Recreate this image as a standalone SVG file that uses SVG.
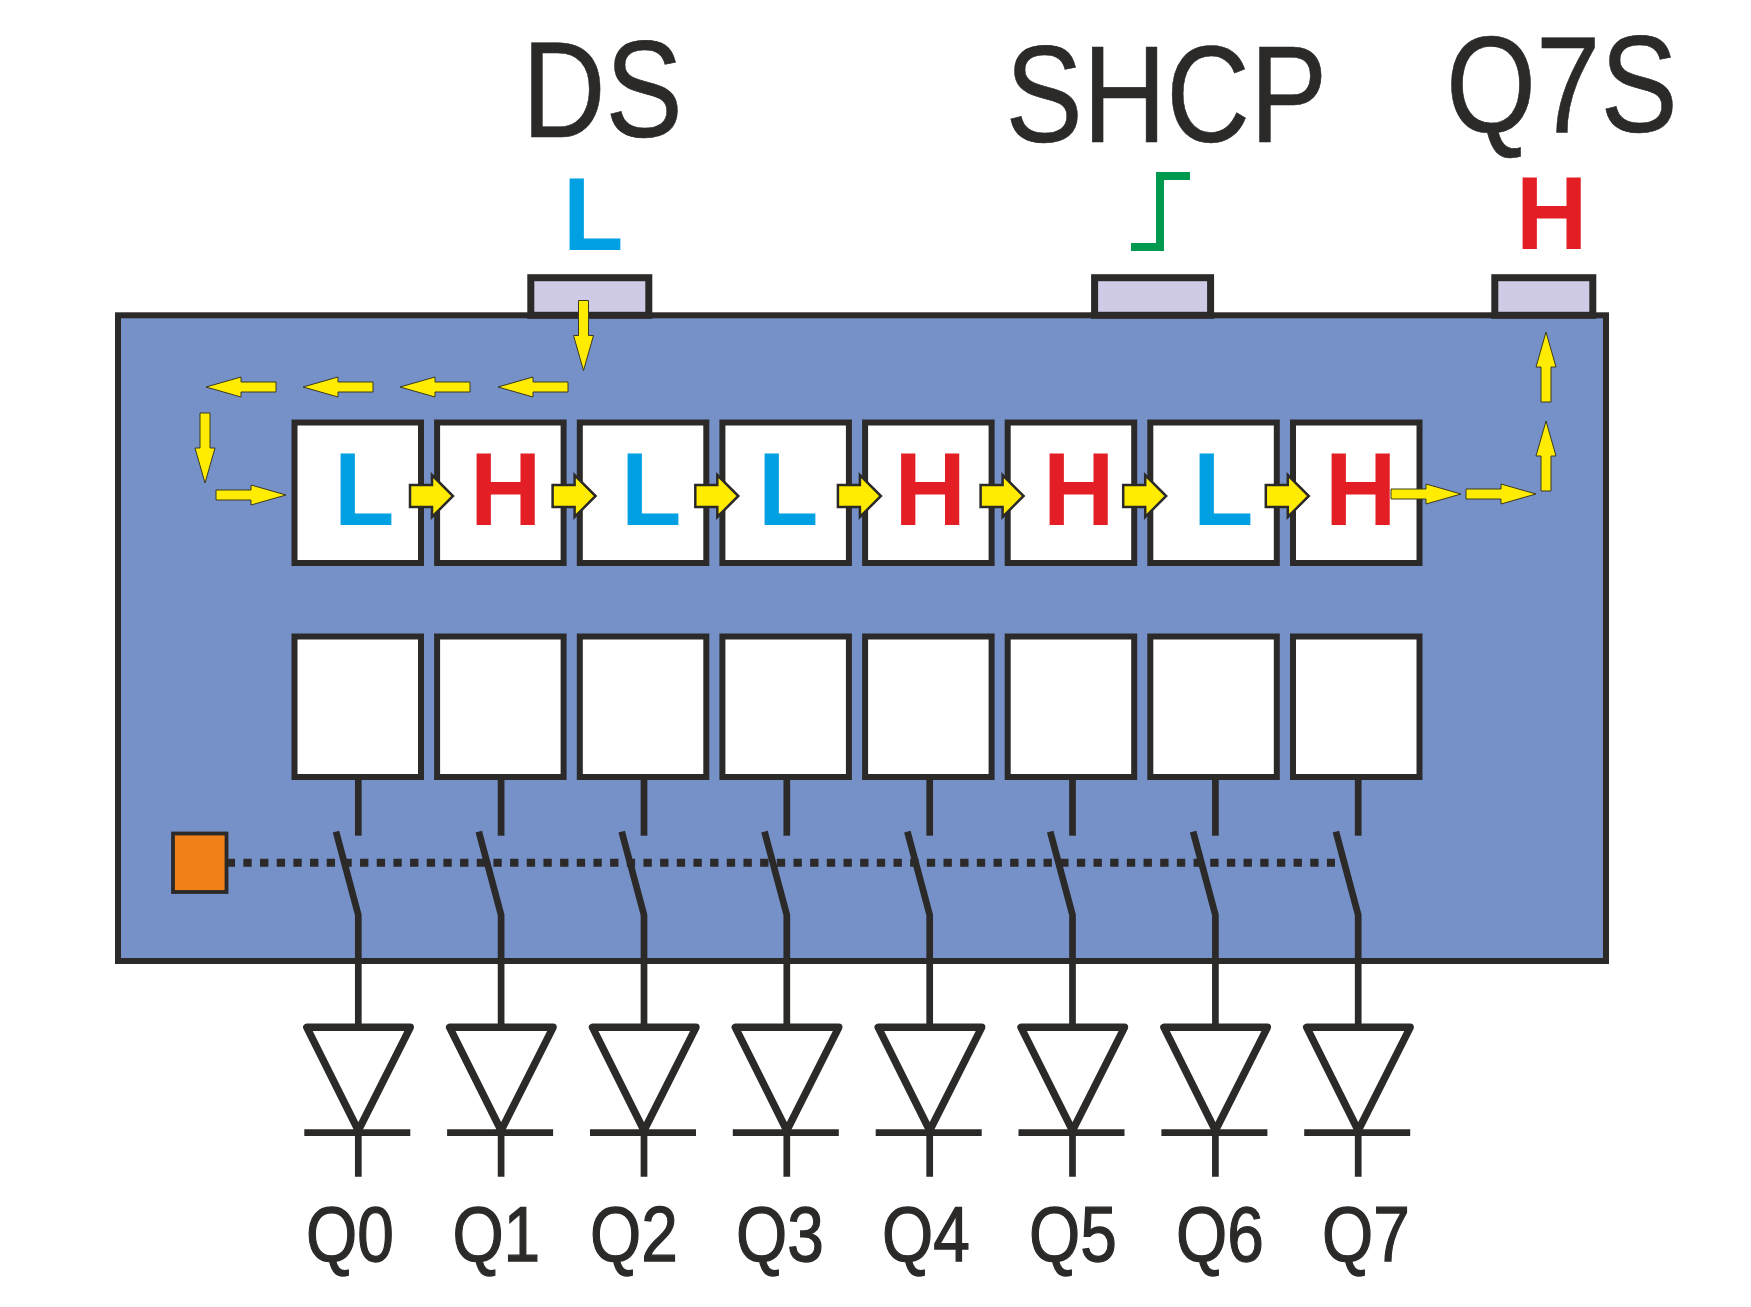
<svg xmlns="http://www.w3.org/2000/svg" width="1751" height="1307" viewBox="0 0 1751 1307">
<style>
.ln{stroke:#2b2a29;fill:none;stroke-width:6.7}
.box{fill:#fff;stroke:#2b2a29;stroke-width:6}
.pin{fill:#cfcbe6;stroke:#2b2a29;stroke-width:7}
.a{fill:#ffec00;stroke:#3a3a20;stroke-width:1}
.b{fill:#ffec00;stroke:#2b2a29;stroke-width:2.5}
.t{font-family:"Liberation Sans",Arial,sans-serif;fill:#2b2a29;stroke:#2b2a29}
.big{font-size:137px;stroke-width:.6}
.q{font-size:77px;stroke-width:1.3}
.v{font-family:"Liberation Sans",Arial,sans-serif;font-weight:700;font-size:103px}
.L{fill:#00a0e3}.H{fill:#e31e24}
</style>
<defs>
<path id="sa" class="a" d="M0-5H35V-10L70 0L35 10V5H0Z"/>
<path id="ba" class="b" d="M0-11H22V-21L43 0L22 21V11H0Z"/>
<g id="out">
<path class="ln" d="M0 780V835.7"/>
<path class="ln" d="M-22.3 831.7L0 915V1027"/>
<path class="ln" stroke-linejoin="round" style="stroke-width:7.4" d="M-51.5 1027.3H52L0 1130.5Z"/>
<path class="ln" d="M-54 1132.7H52M0 1128V1176.7"/>
</g>
</defs>
<rect id="chip" x="118" y="315.3" width="1488" height="645.7" fill="#7690c8" stroke="#2b2a29" stroke-width="6"/>
<g id="pin-ds"><rect class="pin" x="530.8" y="277.7" width="118" height="37.6"/></g>
<g id="pin-shcp"><rect class="pin" x="1094.6" y="277.7" width="116" height="37.6"/></g>
<g id="pin-q7s"><rect class="pin" x="1494.8" y="277.7" width="98" height="37.6"/></g>

<g id="shift-0"><rect class="box" x="294.5" y="422.5" width="126.5" height="140.5"/><text class="v L" transform="translate(334 525.3) scale(.96 1)">L</text></g>
<g id="shift-1"><rect class="box" x="437.1" y="422.5" width="126.5" height="140.5"/><text class="v H" transform="translate(470 525.3) scale(.96 1)">H</text></g>
<g id="shift-2"><rect class="box" x="579.8" y="422.5" width="126.5" height="140.5"/><text class="v L" transform="translate(621 525.3) scale(.96 1)">L</text></g>
<g id="shift-3"><rect class="box" x="722.4" y="422.5" width="126.5" height="140.5"/><text class="v L" transform="translate(758 525.3) scale(.96 1)">L</text></g>
<g id="shift-4"><rect class="box" x="865.1" y="422.5" width="126.5" height="140.5"/><text class="v H" transform="translate(894.5 525.3) scale(.96 1)">H</text></g>
<g id="shift-5"><rect class="box" x="1007.7" y="422.5" width="126.5" height="140.5"/><text class="v H" transform="translate(1043 525.3) scale(.96 1)">H</text></g>
<g id="shift-6"><rect class="box" x="1150.3" y="422.5" width="126.5" height="140.5"/><text class="v L" transform="translate(1193 525.3) scale(.96 1)">L</text></g>
<g id="shift-7"><rect class="box" x="1293" y="422.5" width="126.5" height="140.5"/><text class="v H" transform="translate(1325 525.3) scale(.96 1)">H</text></g>

<g id="storage-0"><rect class="box" x="294.5" y="636.5" width="126.5" height="140.5"/></g>
<g id="storage-1"><rect class="box" x="437.1" y="636.5" width="126.5" height="140.5"/></g>
<g id="storage-2"><rect class="box" x="579.8" y="636.5" width="126.5" height="140.5"/></g>
<g id="storage-3"><rect class="box" x="722.4" y="636.5" width="126.5" height="140.5"/></g>
<g id="storage-4"><rect class="box" x="865.1" y="636.5" width="126.5" height="140.5"/></g>
<g id="storage-5"><rect class="box" x="1007.7" y="636.5" width="126.5" height="140.5"/></g>
<g id="storage-6"><rect class="box" x="1150.3" y="636.5" width="126.5" height="140.5"/></g>
<g id="storage-7"><rect class="box" x="1293" y="636.5" width="126.5" height="140.5"/></g>

<g id="connectors">
<path class="ln" stroke-dasharray="8.33 8.34" d="M226.7 862.7H1335" style="stroke-width:8"/>
<use href="#out" x="358.3"/><use href="#out" x="501.1"/><use href="#out" x="644"/><use href="#out" x="786.8"/><use href="#out" x="929.7"/><use href="#out" x="1072.5"/><use href="#out" x="1215.4"/><use href="#out" x="1358.2"/>
<use href="#sa" transform="translate(568 387) rotate(180)"/>
<use href="#sa" transform="translate(470 387) rotate(180)"/>
<use href="#sa" transform="translate(373 387) rotate(180)"/>
<use href="#sa" transform="translate(276 387) rotate(180)"/>
<use href="#sa" transform="translate(583.5 300.5) rotate(90)"/>
<use href="#sa" transform="translate(205 413) rotate(90)"/>
<use href="#sa" transform="translate(216 495)"/>
<use href="#ba" transform="translate(410 496)"/>
<use href="#ba" transform="translate(552.6 496)"/>
<use href="#ba" transform="translate(695.3 496)"/>
<use href="#ba" transform="translate(837.9 496)"/>
<use href="#ba" transform="translate(980.6 496)"/>
<use href="#ba" transform="translate(1123.2 496)"/>
<use href="#ba" transform="translate(1265.8 496)"/>
<use href="#sa" transform="translate(1391 494)"/>
<use href="#sa" transform="translate(1466 494)"/>
<use href="#sa" transform="translate(1546 491) rotate(-90)"/>
<use href="#sa" transform="translate(1546 402) rotate(-90)"/>
</g>
<g id="oe"><rect x="173" y="833.5" width="53.5" height="58.5" fill="#f08119" stroke="#2b2a29" stroke-width="3.8"/></g>

<g id="labels">
<text class="t big" transform="translate(522 137.3) scale(.845 1)">DS</text>
<text class="t big" transform="translate(1005.5 141.7) scale(.845 1)">SHCP</text>
<text class="t big" transform="translate(1446 131.7) scale(.845 1)">Q7S</text>
<text class="v L" transform="translate(563 250) scale(.96 1)">L</text>
<text class="v H" transform="translate(1516 248.7) scale(.96 1)">H</text>
<path d="M1190 176H1160V247H1131" fill="none" stroke="#009a4e" stroke-width="8"/>
<text class="t q" transform="translate(306 1260.7) scale(.855 1)">Q0</text>
<text class="t q" transform="translate(452.4 1260.7) scale(.855 1)">Q1</text>
<text class="t q" transform="translate(590 1260.7) scale(.855 1)">Q2</text>
<text class="t q" transform="translate(736 1260.7) scale(.855 1)">Q3</text>
<text class="t q" transform="translate(882 1260.7) scale(.855 1)">Q4</text>
<text class="t q" transform="translate(1029 1260.7) scale(.855 1)">Q5</text>
<text class="t q" transform="translate(1176 1260.7) scale(.855 1)">Q6</text>
<text class="t q" transform="translate(1322 1260.7) scale(.855 1)">Q7</text>
</g>
</svg>
